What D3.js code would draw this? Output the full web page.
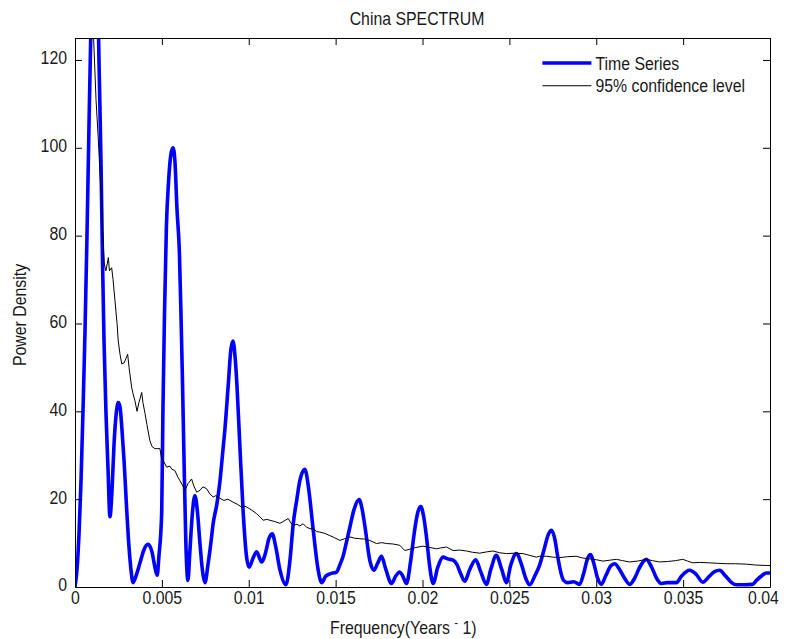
<!DOCTYPE html>
<html>
<head>
<meta charset="utf-8">
<script src="https://cdn.jsdelivr.net/npm/d3@7/dist/d3.min.js"></script>
<style>
  html, body { margin: 0; padding: 0; background: #fff; }
  svg { display: block; }
  text { font-family: "Liberation Sans", Arial, sans-serif; fill: #1a1a1a; }
</style>
</head>
<body>
<svg id="chart" width="785" height="639"></svg>
<script>
// Spectrum of the time series (frequency in years^-1, power density)
const seriesFreq = [0, 0.000115, 0.00023, 0.000345, 0.00046, 0.000575, 0.00069, 0.000805, 0.00092, 0.00109,
  0.00127, 0.00138, 0.0015, 0.00158, 0.00167, 0.00178, 0.0019, 0.00201, 0.00213, 0.00224,
  0.00236, 0.00249, 0.00259, 0.0027, 0.00282, 0.00297, 0.00311, 0.00322, 0.00334, 0.00351,
  0.00374, 0.00397, 0.0042, 0.00443, 0.0046, 0.00473, 0.00483, 0.00499, 0.00506, 0.00515,
  0.00526, 0.00538, 0.00552, 0.00564, 0.00575, 0.00587, 0.00601, 0.0061, 0.00618, 0.00627,
  0.00638, 0.0065, 0.00661, 0.00676, 0.0069, 0.00705, 0.00719, 0.00736, 0.00748, 0.00765,
  0.00782, 0.00795, 0.00817, 0.00834, 0.00851, 0.00863, 0.00882, 0.00897, 0.00909, 0.0092,
  0.00932, 0.00949, 0.00968, 0.00987, 0.01002, 0.01024, 0.01045, 0.01074, 0.01098, 0.01116,
  0.01135, 0.01156, 0.01179, 0.01214, 0.01237, 0.01256, 0.01277, 0.01294, 0.01323, 0.01346,
  0.01371, 0.01399, 0.01419, 0.01444, 0.01467, 0.01505, 0.01524, 0.01543, 0.01564, 0.01582,
  0.01605, 0.01635, 0.01651, 0.01668, 0.01697, 0.0172, 0.01743, 0.01764, 0.01789, 0.01821,
  0.01846, 0.01869, 0.01886, 0.01908, 0.01932, 0.01955, 0.01973, 0.0199, 0.02007, 0.02024,
  0.02042, 0.02061, 0.02088, 0.02118, 0.02145, 0.02176, 0.02197, 0.0222, 0.02243, 0.02272,
  0.02306, 0.02335, 0.02368, 0.02393, 0.02425, 0.02456, 0.02483, 0.02508, 0.0254, 0.02571,
  0.02594, 0.02617, 0.02646, 0.02674, 0.02703, 0.0272, 0.02742, 0.02761, 0.02778, 0.02795,
  0.02812, 0.02835, 0.0287, 0.02904, 0.02927, 0.0295, 0.02968, 0.02985, 0.03008, 0.03029,
  0.03054, 0.03083, 0.03106, 0.03134, 0.03163, 0.03192, 0.03221, 0.0325, 0.03288, 0.03319,
  0.03347, 0.03374, 0.03411, 0.03461, 0.03491, 0.03537, 0.03577, 0.03613, 0.03652, 0.03681,
  0.0371, 0.03744, 0.03779, 0.03807, 0.03853, 0.03899, 0.03922, 0.03951, 0.03978, 0.04];
const seriesPower = [0, 4, 12, 24, 40, 58, 80, 105, 128, 150,
  145, 120, 96, 75, 56, 40, 27, 16, 22, 32,
  39, 42, 41, 36, 29, 18, 9, 4, 1, 2.5,
  5.5, 8.5, 9.7, 8, 4.5, 2.7, 7, 17, 40, 62,
  82, 92, 98.5, 100, 97, 86, 76, 62, 48, 30,
  10, 1.5, 8, 17, 20.8, 17, 10, 3, 1, 5,
  10, 14.4, 19, 24, 31, 36, 46, 54, 56, 53,
  46, 32, 17, 7, 4.5, 6.5, 8, 5.7, 8, 11,
  12.1, 9, 4, 0.5, 6, 14.4, 20, 24.2, 26.8, 22,
  13, 4, 1, 2.5, 3, 3.4, 5, 7, 10.5, 13.6,
  17.5, 19.9, 18, 14, 6, 3.8, 5.5, 7, 4, 0.8,
  2.5, 3.4, 2.5, 0.8, 6, 13, 17, 18.3, 16, 11,
  4.5, 0.8, 4.5, 6.8, 6.4, 6.1, 5.2, 3, 1.3, 4,
  6.2, 3.5, 0.6, 4, 7.2, 4, 1, 5, 7.6, 5,
  2, 0.5, 2.5, 5, 9, 11.5, 12.9, 11, 7, 3.5,
  1.5, 1, 1.2, 0.6, 3, 6.5, 7.4, 5.5, 2, 0.6,
  2.5, 4.8, 5.3, 4, 2, 0.6, 2, 4.5, 6.3, 4.5,
  2, 0.8, 1, 1, 2.5, 3.8, 2.8, 1.1, 2.5, 3.5,
  3.8, 2.5, 1, 0.5, 0.5, 0.6, 1.5, 2.5, 3.2, 3.2];

// 95% confidence level of the red-noise background
const confFreq = [0, 0.000575, 0.000863, 0.00106, 0.00121, 0.00134, 0.00144, 0.00154, 0.00158, 0.00163,
  0.00169, 0.00178, 0.00192, 0.00198, 0.00211, 0.00219, 0.0023, 0.00242, 0.00249, 0.00259,
  0.00269, 0.00282, 0.00293, 0.00303, 0.00311, 0.00326, 0.00334, 0.00345, 0.00357, 0.00368,
  0.00384, 0.00391, 0.00403, 0.00414, 0.00431, 0.00443, 0.0046, 0.00477, 0.00489, 0.00497,
  0.00508, 0.00527, 0.00546, 0.00558, 0.00575, 0.00592, 0.00604, 0.00621, 0.00633, 0.0065,
  0.00671, 0.00684, 0.007, 0.00719, 0.00736, 0.00757, 0.00776, 0.00795, 0.00811, 0.00834,
  0.00857, 0.0088, 0.0091, 0.00932, 0.00959, 0.00978, 0.01006, 0.01024, 0.01045, 0.01064,
  0.01083, 0.01104, 0.01121, 0.0115, 0.01179, 0.01202, 0.01227, 0.01242, 0.01256, 0.01277,
  0.01294, 0.01313, 0.01333, 0.01352, 0.01375, 0.01392, 0.01409, 0.01438, 0.01467, 0.01495,
  0.01524, 0.01553, 0.01582, 0.0161, 0.01639, 0.01668, 0.01697, 0.01735, 0.01766, 0.01793,
  0.01829, 0.01869, 0.01898, 0.01927, 0.01961, 0.02003, 0.02042, 0.0208, 0.02105, 0.02138,
  0.02176, 0.02214, 0.02253, 0.02289, 0.02329, 0.0237, 0.02406, 0.02444, 0.02483, 0.02531,
  0.02578, 0.02617, 0.02655, 0.02674, 0.02713, 0.02749, 0.02789, 0.02835, 0.02885, 0.02922,
  0.02962, 0.03002, 0.03038, 0.03077, 0.03116, 0.03152, 0.03192, 0.03238, 0.03288, 0.03324,
  0.03364, 0.0341, 0.03456, 0.03498, 0.03525, 0.03556, 0.03595, 0.03652, 0.03698, 0.03748,
  0.03802, 0.03863, 0.03917, 0.03978, 0.04];
const confPower = [350, 200, 150, 126, 111, 102, 94, 88, 82, 78,
  73.5, 72, 75, 72, 72.7, 70, 65.2, 60, 56, 53,
  50.8, 51, 52, 53, 50, 45.5, 44, 42.4, 40, 42,
  44.3, 42, 39.5, 37, 33.3, 32, 31.5, 31.5, 31.5, 29.5,
  28.8, 27.3, 27.5, 26.8, 26.5, 25, 24.2, 23, 22, 23.5,
  24.6, 23, 21.6, 22, 22.8, 22.4, 21.2, 20.5, 20.8, 20.2,
  19.7, 20, 19.3, 18.9, 18.2, 18.4, 17.8, 17.3, 16.7, 16,
  15.2, 15.4, 15.2, 14.9, 14.5, 15, 15.6, 14.6, 14, 14.3,
  13.9, 14.4, 13.6, 13.3, 13.1, 12.6, 12.5, 12.2, 11.7, 11.2,
  10.6, 11, 11.4, 11.1, 11, 10.9, 10.6, 9.9, 10.1, 9.9,
  9.8, 9.5, 8.3, 8.6, 9, 9.3, 9, 8.7, 8.9, 9.1,
  8.3, 8.4, 8.2, 7.9, 7.7, 8, 8.2, 7.8, 7.6, 7.7,
  7.6, 7.2, 6.8, 7, 7, 6.8, 6.7, 6.9, 7, 6.6,
  6.4, 6.2, 5.9, 6.1, 6.3, 6, 5.7, 5.9, 6.3, 6,
  5.7, 5.8, 6, 6.3, 5.9, 5.5, 5.6, 5.5, 5.4, 5.3,
  5.3, 5.2, 5, 4.9, 4.9];

const xTicks = [0, 0.005, 0.01, 0.015, 0.02, 0.025, 0.03, 0.035, 0.04];
const xTickLabels = ["0", "0.005", "0.01", "0.015", "0.02", "0.025", "0.03", "0.035", "0.04"];
const yTicks = [0, 20, 40, 60, 80, 100, 120];
const legendLabels = ["Time Series", "95% confidence level"];

const margin = { left: 75, top: 38, right: 15, bottom: 52 };
const W = 785, H = 639;
const iw = W - margin.left - margin.right;   // 695
const ih = H - margin.top - margin.bottom;   // 549
const FONT = 18;
const NARROW = 0.88;   // horizontal squeeze applied to every label

const svg = d3.select("#chart");
svg.append("rect").attr("width", W).attr("height", H).attr("fill", "#fff");

const x = d3.scaleLinear().domain([0, 0.04]).range([0, iw]);
const y = d3.scaleLinear().domain([0, 125]).range([ih, 0]);

const g = svg.append("g").attr("transform", `translate(${margin.left},${margin.top})`);

g.append("defs").append("clipPath").attr("id", "plotClip")
  .append("rect").attr("width", iw).attr("height", ih);

const plot = g.append("g").attr("clip-path", "url(#plotClip)");

const seriesData = seriesFreq.map((f, i) => [f, seriesPower[i]]);
const confData = confFreq.map((f, i) => [f, confPower[i]]);

plot.append("path")
  .datum(seriesData)
  .attr("fill", "none")
  .attr("stroke", "#0000ff")
  .attr("stroke-width", 3.6)
  .attr("stroke-linejoin", "round")
  .attr("d", d3.line().x(d => x(d[0])).y(d => y(d[1])).curve(d3.curveMonotoneX));

plot.append("path")
  .datum(confData)
  .attr("fill", "none")
  .attr("stroke", "#000")
  .attr("stroke-width", 1)
  .attr("d", d3.line().x(d => x(d[0])).y(d => y(d[1])));

// Axes: ticks point inward on all four sides
const tickLen = 7;
const fmtX = (d, i) => xTickLabels[i];

const xAxisB = d3.axisBottom(x).tickValues(xTicks).tickFormat(fmtX).tickSizeInner(-tickLen).tickSizeOuter(0).tickPadding(4);
const xAxisT = d3.axisTop(x).tickValues(xTicks).tickFormat("").tickSizeInner(-tickLen).tickSizeOuter(0);
const yAxisL = d3.axisLeft(y).tickValues(yTicks).tickSizeInner(-tickLen).tickSizeOuter(0).tickPadding(8);
const yAxisR = d3.axisRight(y).tickValues(yTicks).tickFormat("").tickSizeInner(-tickLen).tickSizeOuter(0);

function styleAxis(sel) {
  sel.select(".domain").attr("stroke", "#000").attr("stroke-width", 1);
  sel.selectAll(".tick line").attr("stroke", "#000");
  sel.selectAll(".tick text").attr("fill", "#1a1a1a")
    .style("font-size", FONT + "px")
    .style("font-family", "'Liberation Sans', Arial, sans-serif");
}

const xb = g.append("g").attr("transform", `translate(0,${ih})`).call(xAxisB).call(styleAxis);
g.append("g").call(xAxisT).call(styleAxis);
const yl = g.append("g").call(yAxisL).call(styleAxis);
yl.selectAll(".tick text").attr("dy", "0.22em");
g.append("g").attr("transform", `translate(${iw},0)`).call(yAxisR).call(styleAxis);

// Title and axis labels
svg.append("text")
  .attr("x", 417).attr("y", 25)
  .attr("text-anchor", "middle").style("font-size", FONT + "px")
  .text("China SPECTRUM");

svg.append("text")
  .attr("transform", `translate(26,315) rotate(-90)`)
  .attr("text-anchor", "middle").style("font-size", FONT + "px")
  .text("Power Density");

// Legend
const legend = g.append("g").attr("transform", `translate(${x(0.0269)},${y(119.3)})`);
const legendStyles = [{ stroke: "#0000ff", width: 3.6 }, { stroke: "#000", width: 1 }];
legendLabels.forEach((lab, i) => {
  const row = legend.append("g").attr("transform", `translate(0,${i * 22.7})`);
  row.append("line").attr("x1", 0).attr("x2", 49).attr("y1", 0).attr("y2", 0)
    .attr("stroke", legendStyles[i].stroke).attr("stroke-width", legendStyles[i].width);
  row.append("text").attr("x", 53).attr("y", 6.5).style("font-size", FONT + "px").text(lab);
});

// Condense every single-run label horizontally to the narrow face used by the figure
svg.selectAll("text").each(function () {
  const len = this.getComputedTextLength();
  if (len > 0) {
    d3.select(this).attr("textLength", (len * NARROW).toFixed(1)).attr("lengthAdjust", "spacingAndGlyphs");
  }
});

// keep the last x tick label inside the canvas
xb.selectAll(".tick").filter(d => d === 0.04).select("text").attr("x", -7);

// x label with a raised minus sign for the exponent, condensed as one piece
const xl = svg.append("text")
  .attr("transform", `translate(330,634) scale(${NARROW},1)`)
  .style("font-size", FONT + "px");
xl.append("tspan").text("Frequency(Years ");
xl.append("tspan").attr("dy", -7).style("font-size", "13px").text("-");
xl.append("tspan").attr("dy", 7).text(" 1)");
</script>
</body>
</html>
